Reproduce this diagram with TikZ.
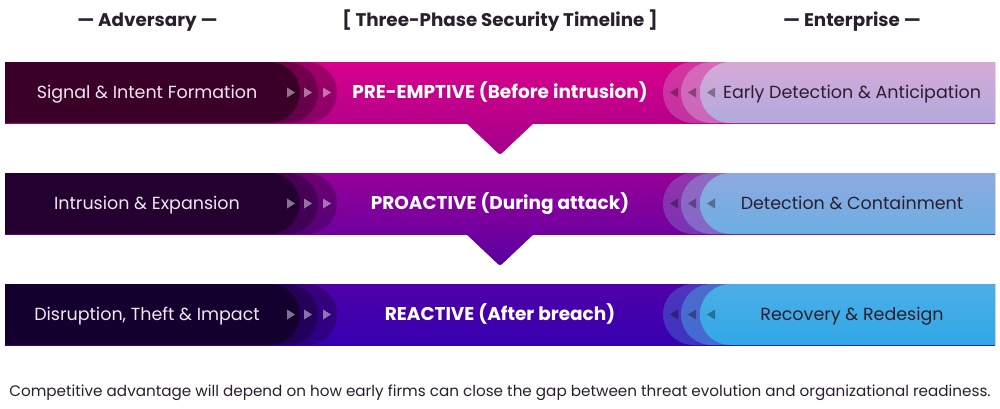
\documentclass[tikz,border=0pt]{standalone}
\usepackage{fontspec}
\setmainfont{Poppins}
\definecolor{c1top}{HTML}{D8008C}
\definecolor{c1bot}{HTML}{B6008A}
\definecolor{c1tip}{HTML}{A2008C}
\definecolor{c1dark}{HTML}{3A0028}
\definecolor{c1rt}{HTML}{D7A9D8}
\definecolor{c1rb}{HTML}{B2AADD}
\definecolor{c2top}{HTML}{960098}
\definecolor{c2bot}{HTML}{7000A0}
\definecolor{c2tip}{HTML}{5A00A0}
\definecolor{c2dark}{HTML}{240030}
\definecolor{c2rt}{HTML}{8EAAE0}
\definecolor{c2rb}{HTML}{6CAEE2}
\definecolor{c3top}{HTML}{5000A8}
\definecolor{c3bot}{HTML}{3600B0}
\definecolor{c3tip}{HTML}{3600B0}
\definecolor{c3dark}{HTML}{14002E}
\definecolor{c3rt}{HTML}{4CAEE6}
\definecolor{c3rb}{HTML}{30A8E8}
\definecolor{inkdark}{HTML}{2A1F2E}
\definecolor{lefttext}{HTML}{F2E6F0}
\tikzset{
  headtxt/.style={font=\fontsize{18.3}{20}\selectfont\bfseries, text=inkdark, anchor=base, inner sep=0pt},
  sidetxt/.style={font=\fontsize{17.5}{20}\selectfont, anchor=base, inner sep=0pt},
  centertxt/.style={font=\fontsize{18.5}{21}\selectfont\bfseries, text=white, anchor=base, inner sep=0pt},
  foottxt/.style={font=\fontsize{15.2}{17}\selectfont, text=inkdark, anchor=base, inner sep=0pt},
  barbox/.style={minimum width=990pt, minimum height=61pt, inner sep=0pt, outer sep=0pt},
  fwdarrow/.style={fill=white, fill opacity=0.45},
  backarrow/.style={fill=black, fill opacity=0.35},
}
% #1 index, #2 bottom y, #3 left, #4 center, #5 right
\newcommand\phaserow[5]{%
  \node[barbox, top color=c#1top, bottom color=c#1bot] (bar#1) at (500,{#2+30.5}) {};
  % right layers
  \fill[c#1rt, opacity=0.30] (995,{#2+61}) -- (693.5,{#2+61}) arc[start angle=90,end angle=270,radius=30.5] -- (995,#2) -- cycle;
  \fill[c#1rt, opacity=0.45] (995,{#2+61}) -- (711.5,{#2+61}) arc[start angle=90,end angle=270,radius=30.5] -- (995,#2) -- cycle;
  \shade[top color=c#1rt, bottom color=c#1rb] (995,{#2+61}) -- (730.5,{#2+61}) arc[start angle=90,end angle=270,radius=30.5] -- (995,#2) -- cycle;
  % left layers
  \fill[c#1dark, opacity=0.35] (5,#2) -- (306.5,#2) arc[start angle=-90,end angle=90,radius=30.5] -- (5,{#2+61}) -- cycle;
  \fill[c#1dark, opacity=0.45] (5,#2) -- (287.5,#2) arc[start angle=-90,end angle=90,radius=30.5] -- (5,{#2+61}) -- cycle;
  \fill[c#1dark] (5,#2) -- (269.5,#2) arc[start angle=-90,end angle=90,radius=30.5] -- (5,{#2+61}) -- cycle;
  % arrows
  \foreach \ax in {291,308,327}{
    \fill[fwdarrow] (\ax-4,{#2+35.5}) -- (\ax+4,{#2+30.5}) -- (\ax-4,{#2+25.5}) -- cycle;}
  \foreach \ax in {674,692,711}{
    \fill[backarrow] (\ax+4,{#2+35.5}) -- (\ax-4,{#2+30.5}) -- (\ax+4,{#2+25.5}) -- cycle;}
  % texts
  \node[sidetxt, text=lefttext] (l#1) at (147,{#2+25}) {#3};
  \node[centertxt] (c#1) at (500,{#2+25}) {#4};
  \node[sidetxt, text=inkdark] (r#1) at (852,{#2+25}) {#5};
}
\newcommand\phasestep[1]{%
  \shade[top color=c#1bot, bottom color=c#1tip, rounded corners=2.5pt]
    ([xshift=-36pt,yshift=2pt]bar#1.south) -- ([yshift=-32pt]bar#1.south) -- ([xshift=36pt,yshift=2pt]bar#1.south) -- cycle;
}
\begin{document}
\begin{tikzpicture}[x=1pt,y=1pt]
\useasboundingbox (0,0) rectangle (1000,408);
\fill[white] (0,0) rectangle (1000,408);
\node[headtxt] (hl) at (147.5,381) {— Adversary —};
\node[headtxt] (hc) at (500,381) {[ Three-Phase Security Timeline ]};
\node[headtxt] (hr) at (852,381) {— Enterprise —};
\phaserow{1}{285}{Signal \& Intent Formation}{PRE-EMPTIVE (Before intrusion)}{Early Detection \& Anticipation}
\phaserow{2}{174}{Intrusion \& Expansion}{PROACTIVE (During attack)}{Detection \& Containment}
\phaserow{3}{63}{Disruption, Theft \& Impact}{REACTIVE (After breach)}{Recovery \& Redesign}
\phasestep{1}
\phasestep{2}
\node[foottxt] (foot) at (500,12) {Competitive advantage will depend on how early firms can close the gap between threat evolution and organizational readiness.};
\end{tikzpicture}
\end{document}
